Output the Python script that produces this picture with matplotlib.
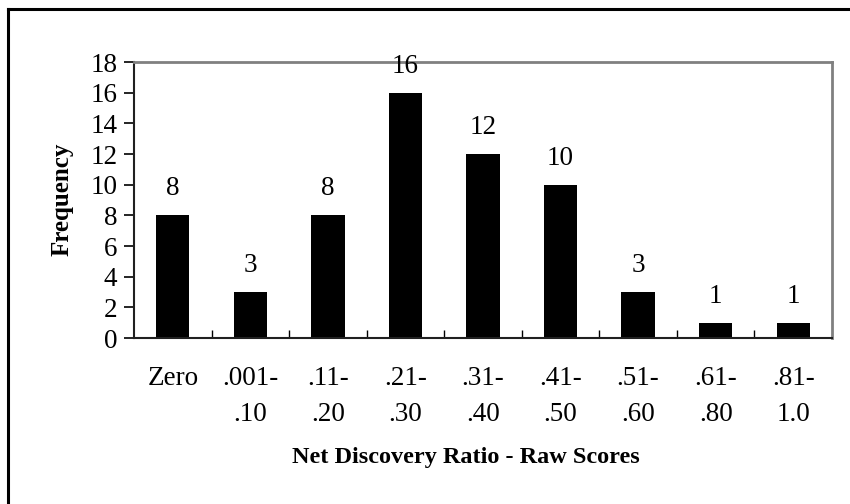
import matplotlib.pyplot as plt
from matplotlib.lines import Line2D

categories = ["Zero", ".001-\n.10", ".11-\n.20", ".21-\n.30", ".31-\n.40",
              ".41-\n.50", ".51-\n.60", ".61-\n.80", ".81-\n1.0"]
frequency = [8, 3, 8, 16, 12, 10, 3, 1, 1]
y_ticks = list(range(0, 19, 2))

plt.rcParams['font.family'] = ['Liberation Serif', 'DejaVu Serif']

fig = plt.figure(figsize=(8.5, 5.04), dpi=100)
ax = fig.add_axes([134 / 850, 1 - 338 / 504, (832 - 134) / 850, (338 - 62) / 504])

x = list(range(len(categories)))
bars = ax.bar(x, frequency, width=0.43, color='black')

# value labels above each bar
for xi, v in zip(x, frequency):
    ax.annotate(str(v), (xi, v), xytext=(0, 10), textcoords='offset points',
                ha='center', va='bottom', fontsize=19.5)

ax.set_xlim(-0.5, len(categories) - 0.5)
ax.set_ylim(0, 18)
ax.set_yticks(y_ticks)
ax.tick_params(axis='y', labelsize=19.5, length=7, width=1.2, direction='out', pad=5)

# category labels sit between the boundary ticks
ax.set_xticks([i + 0.5 for i in x[:-1]])
ax.set_xticklabels([])
ax.tick_params(axis='x', length=6, width=1, direction='in')
for xi, lab in zip(x, categories):
    ax.text(xi, -1.8, lab, ha='center', va='top', fontsize=19.5, linespacing=1.62)

for side in ['top', 'right']:
    ax.spines[side].set_color('#808080')
    ax.spines[side].set_linewidth(2)
for side in ['left', 'bottom']:
    ax.spines[side].set_color('#202020')
    ax.spines[side].set_linewidth(1.5)

fig.text(62 / 850, 1 - 199 / 504, 'Frequency', rotation=90, ha='center', va='center',
         fontsize=18, fontweight='bold')
fig.text(466 / 850, 1 - 457 / 504, 'Net Discovery Ratio - Raw Scores', ha='center',
         va='center', fontsize=17.5, fontweight='bold')

# outer chart border: only the top and left edges fall inside the image
bx, by = 8 / 850, 1 - 9 / 504
fig.add_artist(Line2D([bx, 1.0], [by, by], color='black', linewidth=2.2))
fig.add_artist(Line2D([bx, bx], [0.0, by], color='black', linewidth=2.2))

fig.savefig('out.png', dpi=100)
